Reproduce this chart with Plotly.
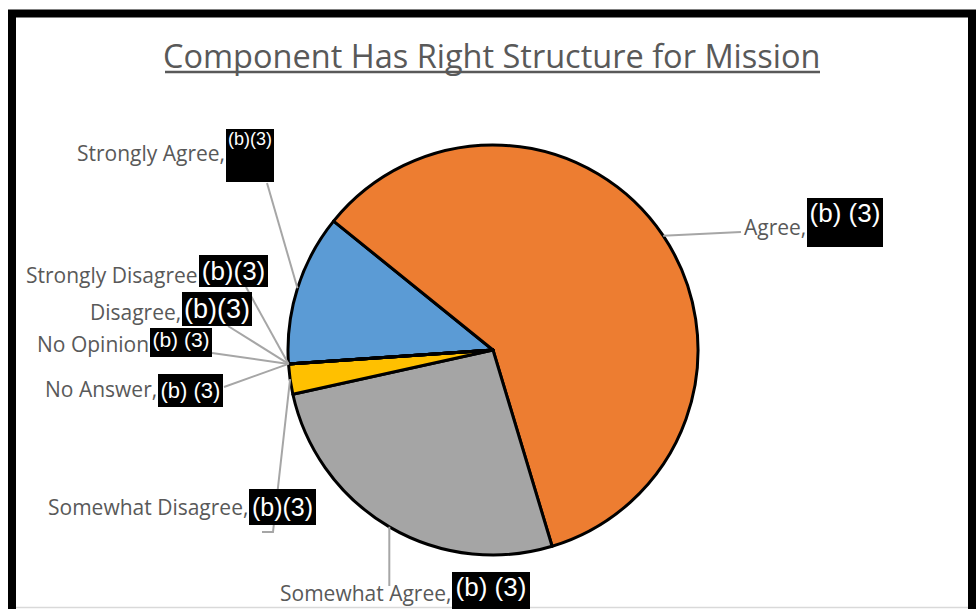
import math
import plotly.graph_objects as go

W, H = 980, 609

# Survey responses, in slice order (clockwise from the start angle)
labels = ["Strongly Agree", "Agree", "Somewhat Agree", "Somewhat Disagree",
          "No Answer", "No Opinion", "Disagree", "Strongly Disagree"]
values = [5, 25, 11, 1, 0, 0, 0, 0]
colors = ["#5B9BD5", "#ED7D31", "#A5A5A5", "#FFC000",
          "#4472C4", "#70AD47", "#264478", "#9E480E"]
label_texts = ["Strongly Agree,", "Agree,", "Somewhat Agree,", "Somewhat Disagree,",
               "No Answer,", "No Opinion", "Disagree,", "Strongly Disagree"]
redacted_texts = ["(b)(3)", "(b) (3)", "(b) (3)", "(b)(3)",
                  "(b) (3)", "(b) (3)", "(b)(3)", "(b)(3)"]
title_text = "Component Has Right Structure for Mission"
start_angle = 266.1

# Pie geometry in page pixels
CX, CY, R = 493, 350, 205

LABEL_FONT = "Open Sans, sans-serif"
BOX_FONT = "Liberation Sans, Arial, sans-serif"
GRAY_TEXT = "#595959"
LEADER = "#A6A6A6"

# Placement of each data label: redaction box (left, top, w, h), box font size,
# vertical alignment of box text, label centre y, leader start point(s)
placement = {
    "Strongly Agree":    dict(box=(226, 129, 48, 53), fs=18, va="top", ty=153, lead=[(267, 183)]),
    "Agree":             dict(box=(807, 198, 76, 49), fs=26, va="top", ty=227, lead=[(741, 232)]),
    "Somewhat Agree":    dict(box=(452, 572, 78, 40), fs=26, va="top", ty=593, lead="vertical"),
    "Somewhat Disagree": dict(box=(249, 489, 67, 36), fs=25, va="middle", ty=507, lead=[(262, 532), (273, 532)]),
    "No Answer":         dict(box=(158, 374, 65, 33), fs=22, va="middle", ty=389, lead=[(224, 387)]),
    "No Opinion":        dict(box=(150, 328, 62, 29), fs=21, va="top", ty=344, lead=[(212, 353)]),
    "Disagree":          dict(box=(182, 292, 70, 34), fs=27, va="middle", ty=312, lead=[(228, 326)]),
    "Strongly Disagree": dict(box=(199, 255, 69, 32), fs=26, va="middle", ty=275, lead=[(246, 287)]),
}

fig = go.Figure()

fig.add_trace(go.Pie(
    labels=labels,
    values=values,
    sort=False,
    direction="clockwise",
    rotation=start_angle,
    marker=dict(colors=colors, line=dict(color="black", width=3)),
    textinfo="none",
    hoverinfo="label+value",
    showlegend=False,
    domain=dict(x=[(CX - R) / W, (CX + R) / W],
                y=[(H - CY - R) / H, (H - CY + R) / H]),
))

# Edge point at the middle of each slice
total = sum(values)
edge = {}
acc = start_angle
for lab, v in zip(labels, values):
    mid = math.radians(acc + 360.0 * v / total / 2)
    edge[lab] = (CX + R * math.sin(mid), CY - R * math.cos(mid))
    acc += 360.0 * v / total

shapes = []
annotations = []

for lab, txt, red in zip(labels, label_texts, redacted_texts):
    p = placement[lab]
    ex, ey = edge[lab]
    if p["lead"] == "vertical":
        pts = [(ex, p["box"][1] + 14), (ex, ey)]
    else:
        pts = list(p["lead"]) + [(ex, ey)]
    path = "M " + " L ".join(f"{x:.1f},{y:.1f}" for x, y in pts)
    shapes.append(dict(type="path", path=path, xref="x", yref="y",
                       line=dict(color=LEADER, width=2), layer="above"))

    bx, by, bw, bh = p["box"]
    annotations.append(dict(
        x=bx, y=p["ty"], xref="x", yref="y", xanchor="right", yanchor="middle",
        text=txt, showarrow=False, borderpad=0,
        font=dict(family=LABEL_FONT, size=21, color=GRAY_TEXT)))
    annotations.append(dict(
        x=bx, y=by, xref="x", yref="y", xanchor="left", yanchor="top",
        width=bw, height=bh, align="center", valign=p["va"],
        text=red, showarrow=False, bgcolor="black", borderpad=0, borderwidth=0,
        font=dict(family=BOX_FONT, size=p["fs"], color="white")))

# Title with a heavy underline rule
annotations.append(dict(
    x=492, y=55, xref="x", yref="y", xanchor="center", yanchor="middle",
    text=title_text, showarrow=False,
    font=dict(family=LABEL_FONT, size=32.5, color=GRAY_TEXT)))
shapes.append(dict(type="line", x0=165, x1=820, y0=72, y1=72, xref="x", yref="y",
                   line=dict(color=GRAY_TEXT, width=2.5), layer="above"))

# Outer frame: heavy black on three sides, light rule along the bottom
shapes.append(dict(type="path", path="M 12,612 L 12,13.5 L 972,13.5 L 972,612",
                   xref="x", yref="y", line=dict(color="black", width=8), layer="above"))
shapes.append(dict(type="line", x0=16, x1=968, y0=607.5, y1=607.5, xref="x", yref="y",
                   line=dict(color="#D9D9D9", width=1.5), layer="above"))

fig.update_layout(
    width=W, height=H,
    margin=dict(l=0, r=0, t=0, b=0),
    paper_bgcolor="white", plot_bgcolor="white",
    xaxis=dict(range=[0, W], visible=False, domain=[0, 1], fixedrange=True),
    yaxis=dict(range=[H, 0], visible=False, domain=[0, 1], fixedrange=True),
    shapes=shapes,
    annotations=annotations,
)

fig.write_html("out.html")
